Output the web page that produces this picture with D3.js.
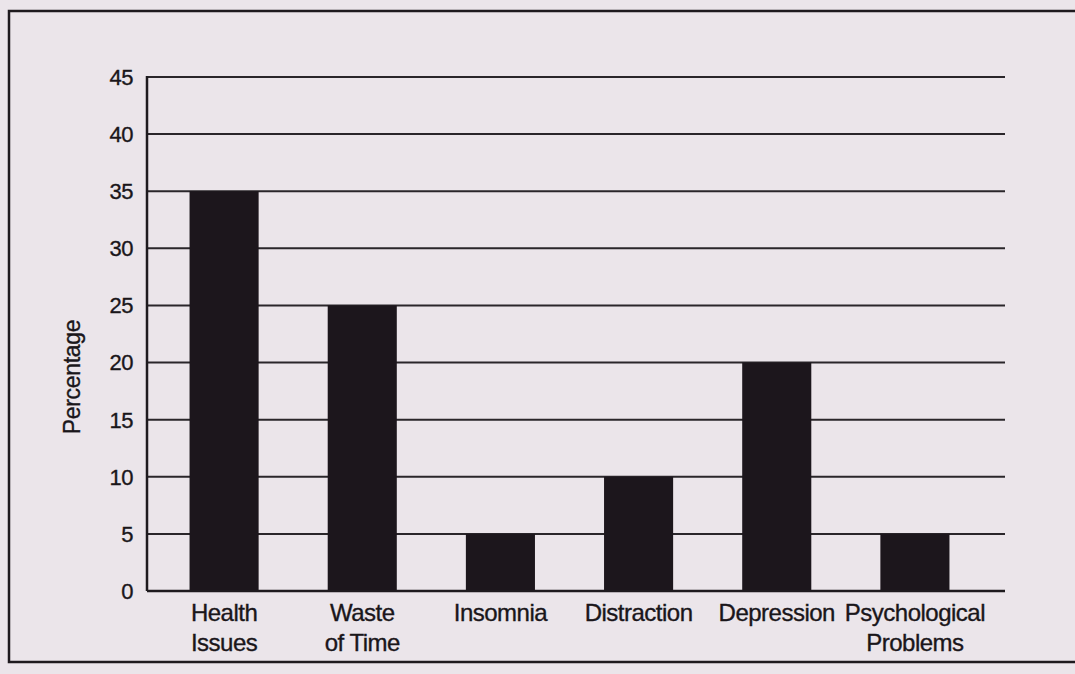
<!DOCTYPE html>
<html>
<head>
<meta charset="utf-8">
<script src="https://cdn.jsdelivr.net/npm/d3@7"></script>
<style>
  body { margin: 0; background: #ebe5ea; }
  svg { display: block; font-family: "Liberation Sans", Arial, sans-serif; }
  text { fill: #1a161a; stroke: #1a161a; stroke-width: 0.35px; }
</style>
</head>
<body>
<svg id="chart" width="1075" height="674"></svg>
<script>
// chart data
const categories = [["Health", "Issues"], ["Waste", "of Time"], ["Insomnia"], ["Distraction"], ["Depression"], ["Psychological", "Problems"]];
const percentages = [35, 25, 5, 10, 20, 5];
const yTicks = [0, 5, 10, 15, 20, 25, 30, 35, 40, 45];

const svg = d3.select("#chart");

// outer frame of the scanned figure
svg.append("rect")
    .attr("x", 9).attr("y", 11)
    .attr("width", 1080).attr("height", 651)
    .style("fill", "none").style("stroke", "#1e1a1e").style("stroke-width", 2.5);

const plotLeft = 147, plotRight = 1005, plotTop = 77, plotBottom = 591;

const y = d3.scaleLinear().domain([0, 45]).range([plotBottom, plotTop]);
const x = d3.scaleBand()
    .domain(categories.map(d => d.join(" ")))
    .range([155, 984])
    .paddingInner(0.5).paddingOuter(0.25);

// horizontal gridlines
svg.append("g").selectAll("line.grid")
    .data(yTicks.filter(t => t > 0)).join("line").attr("class", "grid")
    .attr("x1", plotLeft).attr("x2", plotRight)
    .attr("y1", d => y(d)).attr("y2", d => y(d))
    .style("stroke", "#2a262a").style("stroke-width", 2);

// bars
svg.append("g").selectAll("rect.bar")
    .data(percentages).join("rect").attr("class", "bar")
    .attr("x", (d, i) => x(categories[i].join(" ")))
    .attr("width", x.bandwidth())
    .attr("y", d => y(d))
    .attr("height", d => plotBottom - y(d))
    .style("fill", "#1c161c");

// axes lines
svg.append("line").attr("x1", plotLeft).attr("x2", plotLeft).attr("y1", plotTop - 1).attr("y2", plotBottom)
    .style("stroke", "#1e1a1e").style("stroke-width", 2.5);
svg.append("line").attr("x1", plotLeft).attr("x2", plotRight).attr("y1", plotBottom).attr("y2", plotBottom)
    .style("stroke", "#1e1a1e").style("stroke-width", 2.5);

// y tick labels
svg.append("g").selectAll("text.ytick")
    .data(yTicks).join("text").attr("class", "ytick")
    .attr("x", 133).attr("y", d => y(d))
    .attr("dy", "0.36em")
    .attr("text-anchor", "end")
    .style("font-size", "22px").style("letter-spacing", "-0.5px")
    .text(d => d);

// x category labels
const xLabels = svg.append("g").selectAll("text.xlab")
    .data(categories).join("text").attr("class", "xlab")
    .attr("x", d => x(d.join(" ")) + x.bandwidth() / 2)
    .attr("y", 621)
    .attr("text-anchor", "middle")
    .style("font-size", "24px").style("letter-spacing", "-0.5px");

xLabels.selectAll("tspan")
    .data(d => d).join("tspan")
    .attr("x", (d, i, n) => parseFloat(n[i].parentNode.getAttribute("x")))
    .attr("dy", (d, i) => i === 0 ? 0 : 30)
    .text(d => d);

// y axis title
svg.append("text")
    .attr("transform", "translate(80,377) rotate(-90)")
    .attr("text-anchor", "middle")
    .style("font-size", "23px").style("letter-spacing", "-0.3px")
    .text("Percentage");
</script>
</body>
</html>
